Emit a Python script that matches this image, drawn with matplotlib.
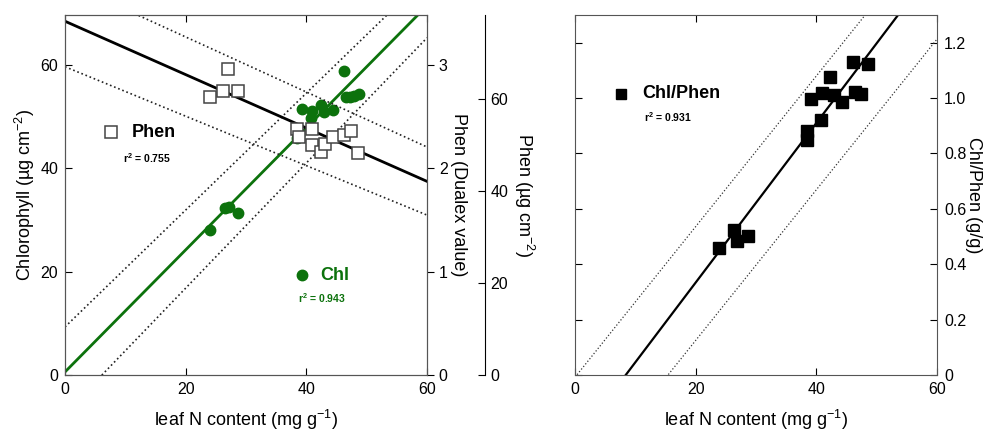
import numpy as np
import matplotlib
matplotlib.use('Agg')
import matplotlib.pyplot as plt

plt.rcParams['font.family'] = ['Liberation Sans', 'DejaVu Sans']
plt.rcParams['mathtext.fontset'] = 'custom'
plt.rcParams['mathtext.rm'] = 'Liberation Sans'
plt.rcParams['mathtext.default'] = 'regular'

# leaf N content vs chlorophyll (ug cm-2)
chl_n = [24.0, 26.5, 27.1, 28.6, 38.5, 38.8, 39.2, 40.8, 40.9, 42.4, 42.9, 44.4,
         46.2, 46.5, 47.2, 47.9, 48.8]
chl_v = [28.0, 32.2, 32.4, 31.4, 45.8, 46.5, 51.5, 49.6, 51.0, 52.3, 50.9, 51.2,
         58.7, 53.8, 53.8, 53.9, 54.3]

# leaf N content vs phenolics (Dualex value)
phen_n = [24.0, 26.2, 27.0, 28.6, 38.5, 38.8, 40.9, 40.9, 42.4, 43.1, 44.5, 46.2, 47.4, 48.6]
phen_v = [2.69, 2.75, 2.96, 2.75, 2.38, 2.30, 2.38, 2.22, 2.16, 2.23, 2.30, 2.32, 2.36, 2.15]

# leaf N content vs Chl/Phen ratio (g/g)
rat_n = [23.9, 26.4, 26.9, 28.6, 38.4, 38.4, 39.1, 40.7, 41.0, 42.3, 42.9, 44.2,
         46.0, 46.4, 47.4, 48.6]
rat_v = [0.460, 0.522, 0.484, 0.502, 0.883, 0.849, 0.997, 0.922, 1.019, 1.075, 1.011, 0.987,
         1.129, 1.021, 1.015, 1.123]

# regression lines (intercept, slope) and prediction bands
chl_fit = (0.6, 1.18)
chl_hi = (9.3, 1.13)
chl_lo = (-7.4, 1.21)
phen_fit = (3.42, -0.0258)
phen_hi = (3.80, -0.0266)
phen_lo = (2.98, -0.0239)
rat_fit = (-0.242, 0.0288)
rat_hi = (-0.008, 0.0272)
rat_lo = (-0.419, 0.0272)

green = '#0c720c'
xx = np.linspace(0, 60, 200)

def line(ax, p, **kw):
  ax.plot(xx, p[0] + p[1] * xx, **kw)

fig = plt.figure(figsize=(9.88, 4.33), dpi=100)

# ---------- left panel ----------
ax = fig.add_axes([0.0658, 0.1339, 0.3664, 0.8314])
ax.set_xlim(0, 60)
ax.set_ylim(0, 69.6)
line(ax, chl_hi, color='#222222', lw=1.2, ls=':')
line(ax, chl_lo, color='#222222', lw=1.2, ls=':')
line(ax, chl_fit, color=green, lw=2)
ax.plot(chl_n, chl_v, 'o', color=green, ms=7.5, zorder=5)
ax.plot([39.2], [19.3], 'o', color=green, ms=7.5)
ax.text(42.3, 19.3, 'Chl', color=green, fontsize=13, fontweight='bold', va='center')
ax.text(38.6, 14.9, r'r$^2$ = 0.943', color=green, fontsize=7.5, fontweight='bold', va='center')
ax.set_xticks([0, 20, 40, 60])
ax.set_yticks([0, 20, 40, 60])
ax.tick_params(direction='in', labelsize=11.5, top=True, length=5, pad=5)
ax.set_xlabel(r'leaf N content (mg g$^{-1}$)', fontsize=13, labelpad=8)
ax.set_ylabel(r'Chlorophyll (µg cm$^{-2}$)', fontsize=13, labelpad=2)

ax2 = ax.twinx()
ax2.set_ylim(0, 3.48)
line(ax2, phen_hi, color='#222222', lw=1.2, ls=':')
line(ax2, phen_lo, color='#222222', lw=1.2, ls=':')
line(ax2, phen_fit, color='black', lw=2)
ax2.plot(phen_n, phen_v, 's', mfc='white', mec='#444444', mew=1.1, ms=8.5, zorder=5)
ax2.plot([7.7], [47.0 / 20], 's', mfc='white', mec='#444444', mew=1.1, ms=8.5)
ax2.text(11.0, 46.8 / 20, 'Phen', fontsize=13, fontweight='bold', va='center')
ax2.text(9.6, 42.0 / 20, r'r$^2$ = 0.755', fontsize=7.5, fontweight='bold', va='center')
ax2.set_yticks([0, 1, 2, 3])
ax2.tick_params(direction='out', labelsize=11.5, length=5)
ax2.set_ylabel('Phen (Dualex value)', fontsize=13, rotation=270, labelpad=14)

ax3 = ax.twinx()
ax3.set_ylim(0, 78.3)
ax3.spines['right'].set_position(('axes', 1.16))
for s in ['top', 'bottom', 'left']:
  ax3.spines[s].set_visible(False)
ax3.set_yticks([0, 20, 40, 60])
ax3.tick_params(direction='in', labelsize=11.5, length=5, pad=4)
ax3.set_ylabel(r'Phen (µg cm$^{-2}$)', fontsize=13, rotation=270, labelpad=20)

for a in (ax, ax2):
  for s in a.spines.values():
    s.set_color('#555555')

# ---------- right panel ----------
bx = fig.add_axes([0.582, 0.1339, 0.3664, 0.8314])
bx.set_xlim(0, 60)
bx.set_ylim(0, 1.3)
line(bx, rat_hi, color='#333333', lw=0.9, ls=':')
line(bx, rat_lo, color='#333333', lw=0.9, ls=':')
line(bx, rat_fit, color='black', lw=1.6)
bx.plot(rat_n, rat_v, 's', color='black', ms=8.5, zorder=5)
bx.plot([7.6], [1.016], 's', color='black', ms=7)
bx.text(11.2, 1.016, 'Chl/Phen', fontsize=13, fontweight='bold', va='center')
bx.text(11.5, 0.93, r'r$^2$ = 0.931', fontsize=7.5, fontweight='bold', va='center')
bx.set_xticks([0, 20, 40, 60])
bx.set_yticks([0, 0.2, 0.4, 0.6, 0.8, 1.0, 1.2])
bx.set_yticklabels(['0', '0.2', '0.4', '0.6', '0.8', '1.0', '1.2'])
bx.yaxis.tick_right()
bx.yaxis.set_label_position('right')
bx.tick_params(direction='in', labelsize=11.5, left=True, right=True, top=True, length=5, pad=5)
bx.set_xlabel(r'leaf N content (mg g$^{-1}$)', fontsize=13, labelpad=8)
bx.set_ylabel('Chl/Phen (g/g)', fontsize=13, rotation=270, labelpad=11)
for s in bx.spines.values():
  s.set_color('#555555')

fig.savefig('out.png', dpi=100)
